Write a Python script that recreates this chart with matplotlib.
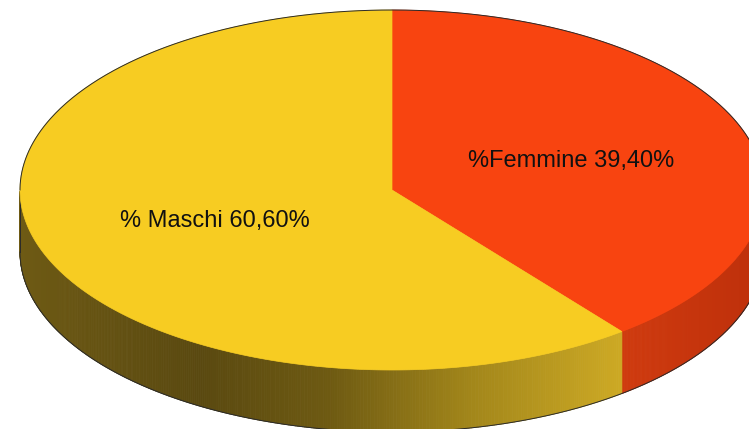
import numpy as np
import matplotlib
matplotlib.use("Agg")
import matplotlib.pyplot as plt
from matplotlib.patches import Polygon
from matplotlib.collections import PolyCollection
from matplotlib.colors import to_rgb

categories = ["%Femmine", "% Maschi"]
values = [39.40, 60.60]
labels = ["%Femmine 39,40%", "% Maschi 60,60%"]
top_colors = ["#F84410", "#F7CC22"]

W, H = 749, 429
fig = plt.figure(figsize=(W / 100, H / 100), dpi=100)
ax = fig.add_axes([0, 0, 1, 1])
ax.set_xlim(0, W)
ax.set_ylim(H, 0)
ax.axis("off")

cx, cy, rx, ry, depth = 392, 190, 372, 180, 62


def pt(t, dy=0):
    return cx + rx * np.cos(t), cy - ry * np.sin(t) + dy


def lerp_cols(stops, x):
    xs = [s[0] for s in stops]
    cols = np.array([to_rgb(s[1]) for s in stops])
    return np.array([np.interp(x, xs, cols[:, k]) for k in range(3)])


total = sum(values)
start = np.pi / 2
bounds = []
a = start
for v in values:
    b = a - 2 * np.pi * v / total
    bounds.append((a, b))
    a = b

# side colour gradients (by x position)
side_stops = [
    [(600, "#D23C0F"), (760, "#BE300B")],
    [(20, "#6E5A14"), (200, "#5A4910"), (330, "#6E5A12"), (470, "#A2861A"), (625, "#CEAA24")],
]

# sides (front half only)
for i, (a0, a1) in enumerate(bounds):
    lo, hi = min(a0, a1), max(a0, a1)
    ts = np.linspace(lo, hi, 600)
    ts_n = np.mod(ts, 2 * np.pi)
    vis = (ts_n >= np.pi) & (ts_n <= 2 * np.pi)
    ts = ts[vis]
    if len(ts) < 2:
        continue
    ts = np.sort(ts)
    polys, cols = [], []
    for t0, t1 in zip(ts[:-1], ts[1:]):
        x0, y0 = pt(t0)
        x1, y1 = pt(t1)
        polys.append([(x0, y0), (x1, y1), (x1, y1 + depth), (x0, y0 + depth)])
        cols.append(lerp_cols(side_stops[i], (x0 + x1) / 2))
    pc = PolyCollection(polys, facecolors=cols, edgecolors=cols, linewidths=0.6, zorder=1)
    ax.add_collection(pc)

# bottom outline of sides
tb = np.linspace(np.pi, 2 * np.pi, 400)
xb, yb = pt(tb, depth)
ax.plot(xb, yb, color="#2a2a2a", lw=0.7, zorder=2)
xl, yl = pt(np.pi)
ax.plot([xl, xl], [yl, yl + depth], color="#2a2a2a", lw=0.7, zorder=2)

# top faces
for i, (a0, a1) in enumerate(bounds):
    ts = np.linspace(a0, a1, 500)
    xs, ys = pt(ts)
    verts = [(cx, cy)] + list(zip(xs, ys))
    ax.add_patch(Polygon(verts, closed=True, facecolor=top_colors[i],
                         edgecolor=top_colors[i], lw=0.5, zorder=3))

# outer rim outline on top
tt = np.linspace(0, np.pi, 400)
xo, yo = pt(tt)
ax.plot(xo, yo, color="#2a2a2a", lw=0.7, zorder=4)

# labels
ax.text(571, 161, labels[0], ha="center", va="center", fontsize=17,
        family="Liberation Sans", color="#111111", zorder=5)
ax.text(215, 221, labels[1], ha="center", va="center", fontsize=17,
        family="Liberation Sans", color="#111111", zorder=5)

fig.savefig("out.png", dpi=100)
